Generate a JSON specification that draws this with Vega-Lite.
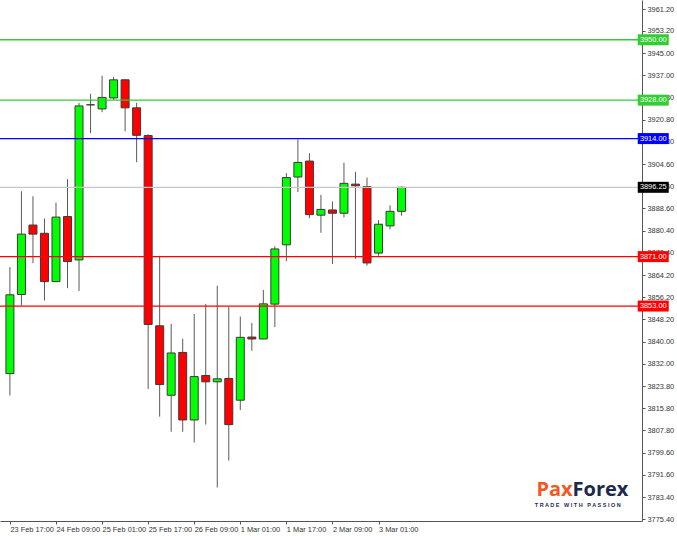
{
  "$schema": "https://vega.github.io/schema/vega-lite/v6.json",
  "autosize": {"type": "none"},
  "padding": {"left": 0, "top": 0, "right": 35, "bottom": 15},
  "width": 642,
  "height": 521,
  "background": "white",
  "view": {"stroke": null},
  "config": {
    "font": "Liberation Sans",
    "axis": {"labelOverlap": false, "labelFlush": false, "labelBound": false, "grid": false, "title": null,
             "labelFont": "Liberation Sans", "labelFontSize": 7.4, "labelColor": "#333",
             "tickSize": 3, "tickColor": "#555", "domainColor": "#555"}
  },
  "encoding": {
    "y": {
      "type": "quantitative",
      "scale": {"domain": [3774.7, 3964.48], "nice": false, "zero": false},
      "axis": {
        "orient": "right",
        "values": [3961.2, 3953.2, 3945.0, 3937.0, 3928.8, 3920.8, 3912.8, 3904.6, 3896.4, 3888.6, 3880.4, 3872.4, 3864.2, 3856.2, 3848.2, 3840.0, 3832.0, 3823.8, 3815.8, 3807.8, 3799.6, 3791.6, 3783.4, 3775.4],
        "format": ".2f",
        "labelPadding": 2,
        "labelOverlap": false
      }
    },
    "x": {
      "type": "quantitative",
      "scale": {"domain": [-0.427, 54.44], "nice": false, "zero": false},
      "axis": {
        "values": [0, 4, 8, 12, 16, 20, 24, 28, 32],
        "labelExpr": "['23 Feb 17:00','24 Feb 09:00','25 Feb 01:00','25 Feb 17:00','26 Feb 09:00','1 Mar 01:00','1 Mar 17:00','2 Mar 09:00','3 Mar 01:00'][round(datum.value/4)]",
        "labelAlign": "left", "labelBaseline": "top", "labelPadding": 1
      }
    }
  },
  "datasets": {
    "candles": [
      {"i": 0, "o": 3828.4, "h": 3867.2, "l": 3820.4, "c": 3857.1},
      {"i": 1, "o": 3857.2, "h": 3894.8, "l": 3853.1, "c": 3879.2},
      {"i": 2, "o": 3882.5, "h": 3893.0, "l": 3868.6, "c": 3879.2},
      {"i": 3, "o": 3879.5, "h": 3884.9, "l": 3855.0, "c": 3861.9},
      {"i": 4, "o": 3861.9, "h": 3890.7, "l": 3861.7, "c": 3885.4},
      {"i": 5, "o": 3885.6, "h": 3899.2, "l": 3859.5, "c": 3869.2},
      {"i": 6, "o": 3869.8, "h": 3927.0, "l": 3858.5, "c": 3925.9},
      {"i": 7, "o": 3926.3, "h": 3930.3, "l": 3916.0, "c": 3926.3},
      {"i": 8, "o": 3924.8, "h": 3936.9, "l": 3923.6, "c": 3929.0},
      {"i": 9, "o": 3928.8, "h": 3936.5, "l": 3928.1, "c": 3935.4},
      {"i": 10, "o": 3935.4, "h": 3935.7, "l": 3916.6, "c": 3925.2},
      {"i": 11, "o": 3925.2, "h": 3927.0, "l": 3905.4, "c": 3915.2},
      {"i": 12, "o": 3915.1, "h": 3915.6, "l": 3822.8, "c": 3846.3},
      {"i": 13, "o": 3845.8, "h": 3871.3, "l": 3812.7, "c": 3824.4},
      {"i": 14, "o": 3820.5, "h": 3846.5, "l": 3807.2, "c": 3835.9},
      {"i": 15, "o": 3836.1, "h": 3841.1, "l": 3807.2, "c": 3811.5},
      {"i": 16, "o": 3811.5, "h": 3850.1, "l": 3803.3, "c": 3827.3},
      {"i": 17, "o": 3827.7, "h": 3853.7, "l": 3809.8, "c": 3825.4},
      {"i": 18, "o": 3825.4, "h": 3860.4, "l": 3786.9, "c": 3826.5},
      {"i": 19, "o": 3826.6, "h": 3852.7, "l": 3796.7, "c": 3809.8},
      {"i": 20, "o": 3818.7, "h": 3849.2, "l": 3815.1, "c": 3841.6},
      {"i": 21, "o": 3841.7, "h": 3846.8, "l": 3836.7, "c": 3841.0},
      {"i": 22, "o": 3841.0, "h": 3858.9, "l": 3840.9, "c": 3853.8},
      {"i": 23, "o": 3853.7, "h": 3874.8, "l": 3845.3, "c": 3873.8},
      {"i": 24, "o": 3875.3, "h": 3901.4, "l": 3869.4, "c": 3899.8},
      {"i": 25, "o": 3900.0, "h": 3913.7, "l": 3894.5, "c": 3905.3},
      {"i": 26, "o": 3905.8, "h": 3908.7, "l": 3885.0, "c": 3886.3},
      {"i": 27, "o": 3886.1, "h": 3893.5, "l": 3879.7, "c": 3888.2},
      {"i": 28, "o": 3888.0, "h": 3891.1, "l": 3868.3, "c": 3886.8},
      {"i": 29, "o": 3886.8, "h": 3905.2, "l": 3885.3, "c": 3897.7},
      {"i": 30, "o": 3897.4, "h": 3901.9, "l": 3870.2, "c": 3896.8},
      {"i": 31, "o": 3896.5, "h": 3899.8, "l": 3867.7, "c": 3868.7},
      {"i": 32, "o": 3872.3, "h": 3884.3, "l": 3871.3, "c": 3882.8},
      {"i": 33, "o": 3882.2, "h": 3889.7, "l": 3880.9, "c": 3887.5},
      {"i": 34, "o": 3887.5, "h": 3896.6, "l": 3885.9, "c": 3896.25}
    ],
    "levels": [
      {"v": 3950.0, "k": "R2", "t": "3950.00"},
      {"v": 3928.0, "k": "R1", "t": "3928.00"},
      {"v": 3914.0, "k": "P", "t": "3914.00"},
      {"v": 3896.25, "k": "Bid", "t": "3896.25"},
      {"v": 3871.0, "k": "S1", "t": "3871.00"},
      {"v": 3853.0, "k": "S2", "t": "3853.00"}
    ]
  },
  "layer": [
    {
      "data": {"name": "candles"},
      "mark": {"type": "rule", "color": "#5a5a5a", "strokeWidth": 1},
      "encoding": {
        "x": {"field": "i"},
        "y": {"field": "l"},
        "y2": {"field": "h"}
      }
    },
    {
      "data": {"name": "candles"},
      "mark": {"type": "bar", "size": 8, "stroke": "#3a3a3a", "strokeWidth": 1},
      "encoding": {
        "x": {"field": "i"},
        "y": {"field": "o"},
        "y2": {"field": "c"},
        "fill": {
          "condition": [
            {"test": "datum.c > datum.o", "value": "#00ff00"},
            {"test": "datum.c < datum.o", "value": "#ff0000"}
          ],
          "value": "#000000"
        }
      }
    },
    {
      "data": {"name": "levels"},
      "mark": {"type": "rule", "strokeWidth": 1.3},
      "encoding": {
        "x": null,
        "y": {"field": "v"},
        "stroke": {
          "field": "k", "type": "nominal", "legend": null,
          "scale": {"domain": ["R2", "R1", "P", "Bid", "S1", "S2"], "range": ["#32cd32", "#32cd32", "#0000ff", "#c8c8c8", "#ff0000", "#ff0000"]}
        }
      }
    },
    {
      "data": {"name": "levels"},
      "mark": {"type": "tick", "orient": "horizontal", "size": 31, "thickness": 11, "opacity": 1, "filled": true},
      "encoding": {
        "x": {"datum": 55.85},
        "y": {"field": "v"},
        "fill": {
          "field": "k", "type": "nominal", "legend": null,
          "scale": {"domain": ["R2", "R1", "P", "Bid", "S1", "S2"], "range": ["#32cd32", "#32cd32", "#0000ff", "#000000", "#ff0000", "#ff0000"]}
        }
      }
    },
    {
      "data": {"name": "levels"},
      "mark": {"type": "text", "color": "white", "fontSize": 7.4, "font": "Liberation Sans", "align": "center", "baseline": "middle"},
      "encoding": {
        "x": {"datum": 55.85},
        "y": {"field": "v"},
        "text": {"field": "t"}
      }
    },
    {
      "data": {"values": [{"x": 48.85, "y": 3783.9, "t": "Pax"}]},
      "mark": {"type": "text", "color": "#f15a24", "fontSize": 20, "fontWeight": "bold", "font": "Open Sans", "align": "right", "baseline": "alphabetic"},
      "encoding": {
        "x": {"field": "x"},
        "y": {"field": "y"},
        "text": {"field": "t"}
      }
    },
    {
      "data": {"values": [{"x": 48.85, "y": 3783.9, "t": "Forex"}]},
      "mark": {"type": "text", "color": "#1b2a4a", "fontSize": 20, "fontWeight": "bold", "font": "Open Sans", "align": "left", "baseline": "alphabetic"},
      "encoding": {
        "x": {"field": "x"},
        "y": {"field": "y"},
        "text": {"field": "t"}
      }
    },
    {
      "data": {"values": [{"x": 49.3, "y": 3780.6, "t": "T R A D E \u00a0 W I T H \u00a0 P A S S I O N"}]},
      "mark": {"type": "text", "color": "#1b2a4a", "fontSize": 5.5, "fontWeight": "bold", "font": "Liberation Sans", "align": "center", "baseline": "middle"},
      "encoding": {
        "x": {"field": "x"},
        "y": {"field": "y"},
        "text": {"field": "t"}
      }
    }
  ]
}
